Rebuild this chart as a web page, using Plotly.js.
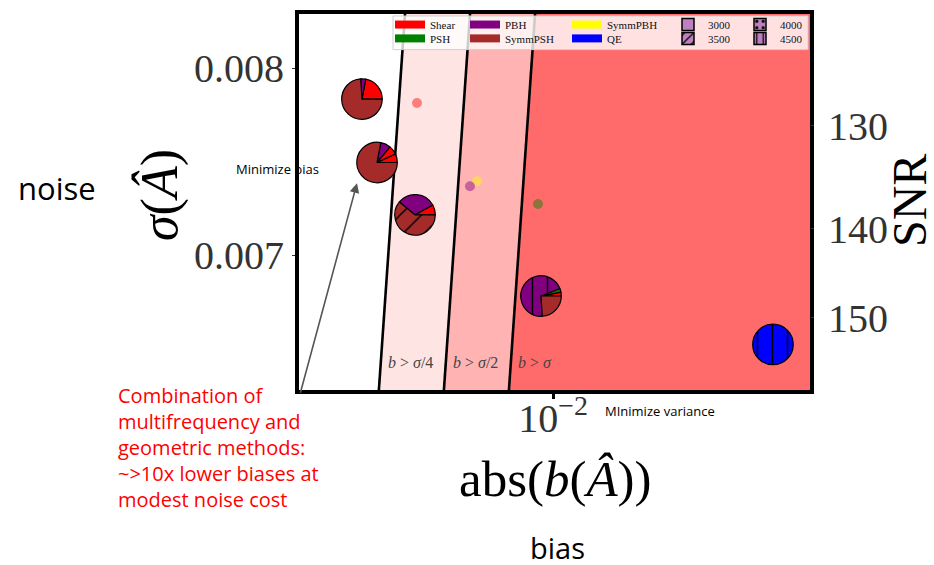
<!DOCTYPE html>
<html><head><meta charset="utf-8">
<script src="https://cdn.plot.ly/plotly-3.0.1.min.js"></script>
<style>html,body{margin:0;padding:0;background:#fff}</style>
</head><body><div id="chart" style="width:934px;height:565px"></div>
<script>
// ---------------- data ----------------
const estimators = ['Shear','PSH','PBH','SymmPSH','SymmPBH','QE'];
const estimatorColors = ['#ff0000','#008000','#800080','#a52a2a','#ffff00','#0000ff'];
const lmaxLabels = ['3000','3500','4000','4500'];
const lmaxHatches = ['', '/', '.', '|'];

// region boundaries: b = sigma / k
const boundaryDivisors = [4, 2, 1];
const boundaryLabels = ['<i>b</i> &gt; <i>σ</i>/4', '<i>b</i> &gt; <i>σ</i>/2', '<i>b</i> &gt; <i>σ</i>'];
const sigmaSpan = [0.0060, 0.0086];

// single-estimator points
const pointEstimator = ['Shear','PSH','SymmPBH','PBH'];
const pointBias  = [0.002341, 0.008503, 0.004438, 0.004118];
const pointNoise = [0.007815, 0.007275, 0.007397, 0.007370];

// combination pies
const pieBias  = [0.001302, 0.001529, 0.002292, 0.008781, 0.1041];
const pieNoise = [0.007836, 0.007497, 0.007217, 0.006783, 0.006524];
const pieEstimators = [
  ['Shear','PBH','SymmPSH'],
  ['Shear','Shear','PBH','SymmPSH'],
  ['Shear','PBH','SymmPSH'],
  ['Shear','PSH','PBH','SymmPSH'],
  ['QE']
];
const pieLmax = [
  ['3000','3000','3000'],
  ['3000','3500','3000','3000'],
  ['3000','3000','3500'],
  ['3000','3000','4500','3000'],
  ['4500']
];
const pieWeights = [
  [22, 4, 74],
  [7, 7, 8, 78],
  [8, 31, 61],
  [3, 3, 70, 24],
  [100]
];

const noiseTicks = [0.007, 0.008];
const snrTicks = [130, 140, 150];
const biasTicks = [0.01];
const biasTickText = ['10<sup>−2</sup>'];

// ---------------- layout geometry ----------------
const W = 934, H = 565;
const M = {l: 299, r: 124, t: 10, b: 175};
const PW = W - M.l - M.r, PH = H - M.t - M.b;
const xRange = [-3.1769, -0.8111];
const yRange = [0.0062804, 0.0082910];
const px2x = p => (p - M.l) / PW;
const px2y = p => (H - M.b - p) / PH;
const dataPaperX = b => (Math.log10(b) - xRange[0]) / (xRange[1] - xRange[0]);
const dataPaperY = s => (s - yRange[0]) / (yRange[1] - yRange[0]);

const colorOf = e => estimatorColors[estimators.indexOf(e)];
const hatchOf = l => lmaxHatches[lmaxLabels.indexOf(l)];
const serif = 'Liberation Serif';
const sans = 'Open Sans';

const traces = [];

// shaded regions
const regionFill = ['#ffe4e4', '#ffb3b3', '#ff6b6b'];
const edges = boundaryDivisors.map(k => sigmaSpan.map(s => s / k));
for (let i = 0; i < edges.length; i++) {
  const left = edges[i];
  const right = i + 1 < edges.length ? edges[i + 1] : [10, 10];
  traces.push({
    type: 'scatter', mode: 'lines', fill: 'toself', fillcolor: regionFill[i],
    x: [left[0], left[1], right[1], right[0]],
    y: [sigmaSpan[0], sigmaSpan[1], sigmaSpan[1], sigmaSpan[0]],
    line: {width: 0}, hoverinfo: 'skip', showlegend: false
  });
}
// boundary lines
edges.forEach(e => traces.push({
  type: 'scatter', mode: 'lines', x: e, y: sigmaSpan,
  line: {color: 'black', width: 2.6}, hoverinfo: 'skip', showlegend: false
}));

// single estimator points
traces.push({
  type: 'scatter', mode: 'markers', x: pointBias, y: pointNoise,
  marker: {size: 10, color: pointEstimator.map(colorOf), opacity: 0.45},
  hoverinfo: 'skip', showlegend: false
});

// secondary axis anchor trace (SNR = 1/sigma)
traces.push({
  type: 'scatter', mode: 'markers', x: [pieBias[0]], y: [pieNoise[0]], yaxis: 'y2',
  marker: {size: 1, opacity: 0}, hoverinfo: 'skip', showlegend: false
});

// pies (first wedge starts at 3 o'clock, going counter-clockwise)
const R = 20.5;
pieBias.forEach((b, i) => {
  const cx = dataPaperX(b), cy = dataPaperY(pieNoise[i]);
  const rx = R / PW, ry = R / PH;
  const w = pieWeights[i];
  const total = w.reduce((a, v) => a + v, 0);
  const cols = pieEstimators[i].map(colorOf);
  traces.push({
    type: 'pie', sort: false, direction: 'counterclockwise',
    rotation: 90 - 360 * w[0] / total,
    values: w,
    labels: pieEstimators[i].map((e, j) => e + ' ' + pieLmax[i][j]),
    domain: {x: [cx - rx, cx + rx], y: [cy - ry, cy + ry]},
    textinfo: 'none', hoverinfo: 'none', showlegend: false,
    marker: {
      colors: cols,
      line: {color: 'black', width: 1.2},
      pattern: {shape: pieLmax[i].map(hatchOf), fgcolor: 'black', bgcolor: cols,
                size: 15, solidity: 0.1}
    }
  });
});

// legend entries: one legend per entry so that the 2x5 grid can be placed freely
const legendTextStart = [430, 505, 607, 708, 780];
const legendRowCenter = [19, 33];
const legendPos = [];
let legendCount = 0;
function nextLegend(col, row) {
  legendCount += 1;
  const id = legendCount === 1 ? 'legend' : 'legend' + legendCount;
  legendPos.push({id, col, row});
  return id;
}
estimators.forEach((e, i) => traces.push({
  type: 'scatter', mode: 'lines', x: [null], y: [null], name: e,
  legend: nextLegend(Math.floor(i / 2), i % 2),
  line: {color: estimatorColors[i], width: 8}, hoverinfo: 'skip'
}));
lmaxLabels.forEach((l, j) => traces.push({
  type: 'bar', x: [null], y: [null], name: l,
  legend: nextLegend(3 + Math.floor(j / 2), j % 2),
  marker: {color: '#bf80bf', line: {color: 'black', width: 1.5},
           pattern: {shape: lmaxHatches[j], fgcolor: 'black', bgcolor: '#bf80bf', size: 8, solidity: 0.2}},
  hoverinfo: 'skip'
}));

const ann = [];
const A = (o) => ann.push(Object.assign({xref: 'paper', yref: 'paper', showarrow: false,
  xanchor: 'center', yanchor: 'middle'}, o));
A({x: px2x(57), y: px2y(186), text: 'noise', font: {family: sans, size: 31, color: '#000'}});
A({x: px2x(160), y: px2y(193), text: '<i>σ</i>(<i>Â</i>)', textangle: -90, font: {family: serif, size: 52, color: '#000'}});
A({x: px2x(909), y: px2y(199), text: 'SNR', textangle: -90, font: {family: serif, size: 48, color: '#000'}});
A({x: px2x(555), y: px2y(480), text: 'abs(<i>b</i>(<i>Â</i>))', font: {family: serif, size: 51, color: '#000'}});
A({x: px2x(557), y: px2y(549), text: 'bias', font: {family: sans, size: 29, color: '#000'}});
A({x: px2x(277), y: px2y(167), text: 'Minimize bias', font: {family: sans, size: 13, color: '#000'}});
A({x: px2x(660), y: px2y(411), text: 'MInimize variance', font: {family: sans, size: 13, color: '#000'}});
A({x: px2x(116), y: px2y(380), xanchor: 'left', yanchor: 'top', align: 'left',
   text: 'Combination of<br>multifrequency and<br>geometric methods:<br>~&gt;10x lower biases at<br>modest noise cost',
   font: {family: sans, size: 20, color: '#ff0000'}});
const labelLeft = [386, 451, 516];
boundaryLabels.forEach((t, i) => A({x: px2x(labelLeft[i]), y: px2y(362), xanchor: 'left', text: t,
   font: {family: serif, size: 16, color: '#444'}}));
ann.push({xref: 'paper', yref: 'paper', x: px2x(357), y: px2y(181), ax: -57, ay: 211, text: '',
  showarrow: true, arrowhead: 2, arrowsize: 1.2, arrowwidth: 1.6, arrowcolor: '#555', standoff: 0});

const layout = {
  width: W, height: H, margin: M, paper_bgcolor: '#fff', plot_bgcolor: '#fff',
  showlegend: true,
  xaxis: {type: 'log', range: xRange, tickvals: biasTicks, ticktext: biasTickText,
          ticks: 'outside', ticklen: 5, tickwidth: 3, tickcolor: '#000', ticklabelstandoff: -15,
          showline: true, linewidth: 4, linecolor: '#000', mirror: true,
          showgrid: false, zeroline: false, tickfont: {family: serif, size: 40, color: '#333'}},
  yaxis: {range: yRange, tickvals: noiseTicks, ticktext: noiseTicks.map(v => v.toFixed(3)),
          ticks: 'outside', ticklen: 3, tickwidth: 1, tickcolor: '#333',
          showline: true, linewidth: 4, linecolor: '#000', mirror: true,
          showgrid: false, zeroline: false, tickfont: {family: serif, size: 40, color: '#333'}},
  yaxis2: {overlaying: 'y', side: 'right', range: yRange,
           tickvals: snrTicks.map(v => 1 / v), ticktext: snrTicks.map(String),
           ticks: 'outside', ticklen: 3, tickwidth: 1, tickcolor: '#333',
           showline: false, showgrid: false, zeroline: false, ticklabelstandoff: 6,
           tickfont: {family: serif, size: 40, color: '#333'}},
  shapes: [{type: 'rect', xref: 'paper', yref: 'paper', layer: 'above',
            x0: px2x(393), x1: px2x(808), y0: px2y(46), y1: px2y(12),
            fillcolor: 'rgba(255,255,255,0.8)', line: {color: '#d0d0d0', width: 1}}],
  annotations: ann
};
legendPos.forEach(p => {
  layout[p.id] = {
    bgcolor: 'rgba(0,0,0,0)', borderwidth: 0, orientation: 'v',
    font: {family: serif, size: 11, color: '#111'},
    xanchor: 'left', yanchor: 'top',
    x: px2x(legendTextStart[p.col] - 40), y: px2y(legendRowCenter[p.row] - 13)
  };
});

Plotly.newPlot('chart', traces, layout, {displayModeBar: false, staticPlot: true});
</script></body></html>
